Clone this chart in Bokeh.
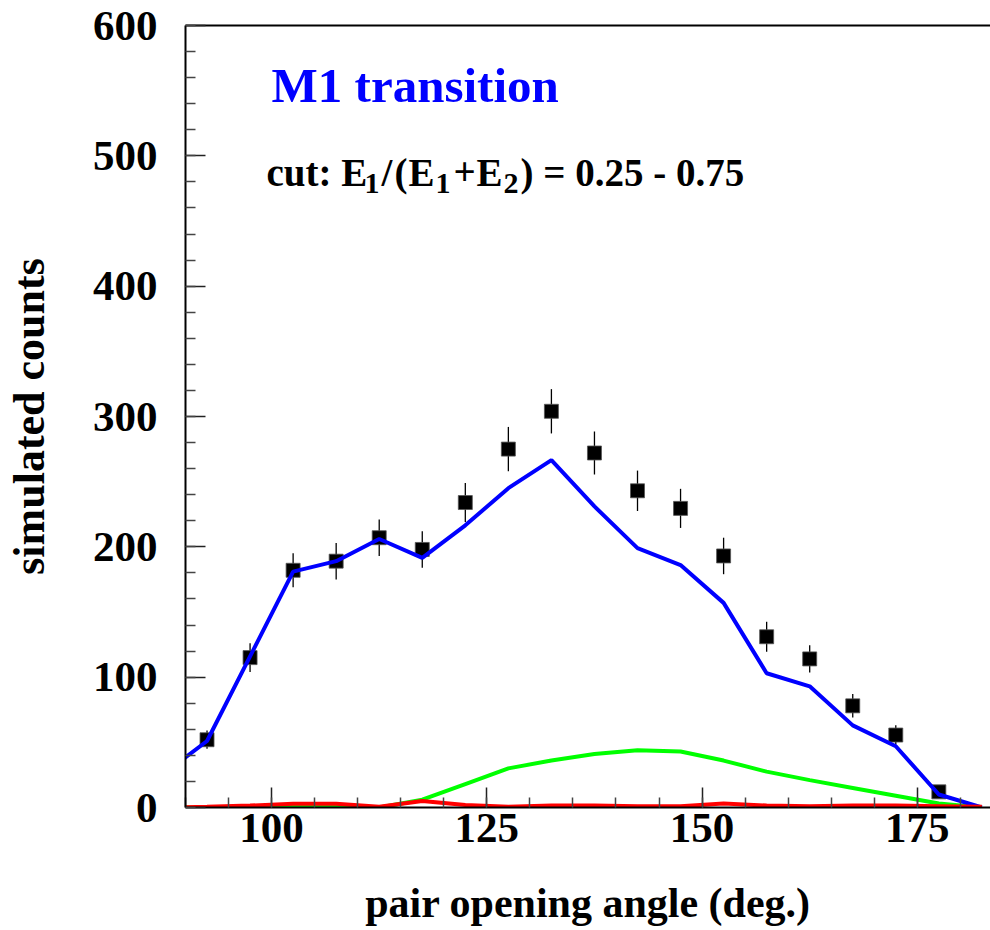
from bokeh.plotting import figure
from bokeh.models import Range1d, SingleIntervalTicker, FixedTicker, LinearAxis, Label, ColumnDataSource
from bokeh.embed import file_html
from bokeh.resources import INLINE

# ---------------- data ----------------
bin_centers = [87.5, 92.5, 97.5, 102.5, 107.5, 112.5, 117.5, 122.5, 127.5, 132.5,
               137.5, 142.5, 147.5, 152.5, 157.5, 162.5, 167.5, 172.5, 177.5, 182.5]
m1_total = [26, 51, 116, 181, 189, 206, 191.5, 216.5, 245, 266.5,
            231, 199, 186, 157, 103, 93, 63, 47, 10, 0]
green_component = [0, 0, 0.5, 1, 1, 0, 6, 18, 30, 36,
                   41, 44, 43, 36, 27.5, 21, 15, 9, 3, 0]
red_component = [0, 0.5, 1.5, 2.8, 2.8, 0.5, 5, 2, 0.5, 1.5,
                 1.5, 1, 1, 3, 1.5, 1, 1.5, 1.5, 1, 0.5]

point_x = [92.5, 97.5, 102.5, 107.5, 112.5, 117.5, 122.5, 127.5, 132.5,
           137.5, 142.5, 147.5, 152.5, 157.5, 162.5, 167.5, 172.5, 177.5]
point_counts = [52, 115, 182, 189, 207, 198, 234, 275, 304,
                272, 243, 229.5, 193, 131, 114, 78, 55.6, 12]
point_err = [7, 11, 13, 14, 14, 14, 15, 17, 17,
             16.5, 15.5, 15, 14, 11.5, 10.5, 9, 7.5, 3.5]

x_tick_interval = 25
y_tick_interval = 100

# ---------------- figure ----------------
FONT = "Liberation Serif"

p = figure(width=990, height=930, output_backend="svg", toolbar_location=None,
           x_range=Range1d(90, 183.5), y_range=Range1d(0, 600),
           min_border_left=185, min_border_right=0, min_border_top=25, min_border_bottom=123)
p.xgrid.visible = False
p.ygrid.visible = False
p.outline_line_color = None
p.background_fill_color = "white"
p.border_fill_color = "white"

p.xaxis.ticker = SingleIntervalTicker(interval=x_tick_interval, num_minor_ticks=5)
p.yaxis.ticker = SingleIntervalTicker(interval=y_tick_interval, num_minor_ticks=5)

for ax in (p.xaxis[0], p.yaxis[0]):
    ax.axis_line_width = 2
    ax.axis_line_color = "black"
    ax.major_tick_in = 20
    ax.major_tick_out = 0
    ax.minor_tick_in = 10
    ax.minor_tick_out = 0
    ax.major_tick_line_width = 1.5
    ax.minor_tick_line_width = 1.5
    ax.major_tick_line_color = "#222222"
    ax.minor_tick_line_color = "#444444"
    ax.major_label_text_font = FONT
    ax.major_label_text_font_style = "bold"
    ax.major_label_text_font_size = "43px"
    ax.major_label_text_color = "black"
    ax.axis_label_text_font = FONT
    ax.axis_label_text_font_style = "bold"
    ax.axis_label_text_color = "black"

p.xaxis.axis_label = "pair opening angle (deg.)"
p.yaxis.axis_label = "simulated counts"
p.xaxis.axis_label_text_font_size = "42px"
p.yaxis.axis_label_text_font_size = "44px"
p.xaxis.major_label_standoff = 6
p.yaxis.major_label_standoff = 28
p.xaxis.axis_label_standoff = 35
p.yaxis.axis_label_standoff = 36

top = LinearAxis(ticker=FixedTicker(ticks=[]), axis_line_width=2, axis_line_color="black",
                 major_tick_in=0, major_tick_out=0, minor_tick_in=0, minor_tick_out=0)
p.add_layout(top, "above")

# ---------------- glyphs ----------------
pts = ColumnDataSource(dict(x=point_x, y=point_counts,
                            lo=[c - e for c, e in zip(point_counts, point_err)],
                            hi=[c + e for c, e in zip(point_counts, point_err)]))
p.segment(x0="x", y0="lo", x1="x", y1="hi", source=pts, line_color="black", line_width=1.3)
p.scatter(x="x", y="y", source=pts, marker="square", size=14,
          fill_color="black", line_color="#555555", line_width=0.8)

p.line(bin_centers, green_component, line_color="#00ff00", line_width=4)
p.line(bin_centers, m1_total, line_color="#0000ff", line_width=4)
p.line(bin_centers, red_component, line_color="#ff0000", line_width=4)

# ---------------- texts ----------------
p.add_layout(Label(x=100.0, y=554.0, text="M1 transition", text_font=FONT,
                   text_font_style="bold", text_font_size="49px", text_color="#0000ff",
                   text_baseline="alphabetic", text_align="left"))

F, S = "39px", "30px"
pieces = [("cut: E", 0, F, 0), ("1", 98, S, -11), ("/", 115, F, 0), ("(", 128, F, 0),
          ("E", 142, F, 0), ("1", 169, S, -11), ("+", 187, F, 0), ("E", 210, F, 0),
          ("2", 237, S, -11), (") = 0.25 - 0.75", 254, F, 0)]
for txt, dx, fs, dy in pieces:
    p.add_layout(Label(x=99.41, y=487.4, x_offset=dx, y_offset=dy, text=txt, text_font=FONT,
                       text_font_style="bold", text_font_size=fs, text_color="black",
                       text_baseline="alphabetic", text_align="left"))

open("out.html", "w").write(file_html(p, INLINE))
